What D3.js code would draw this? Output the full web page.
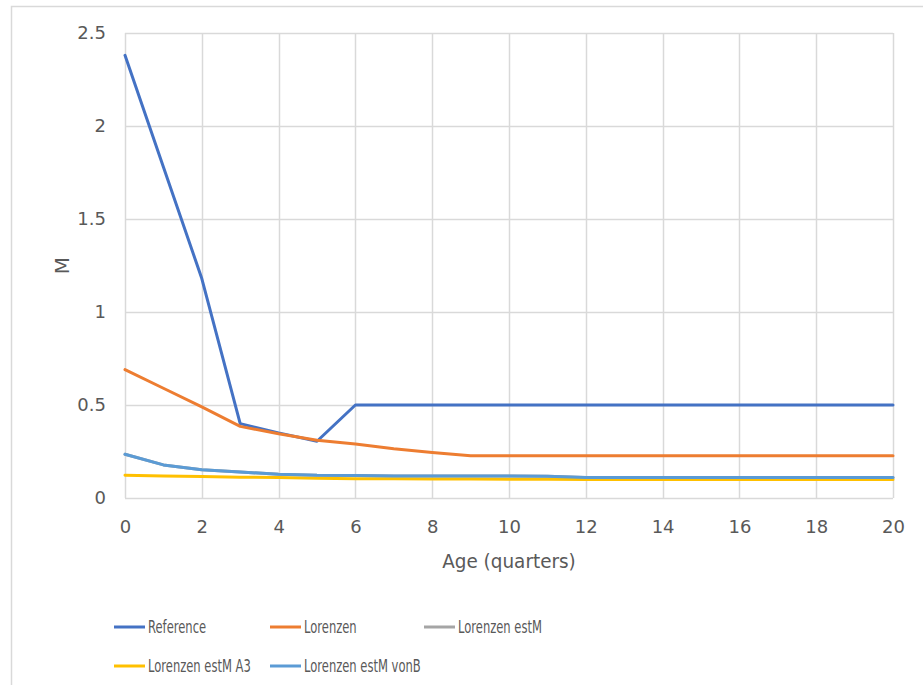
<!DOCTYPE html>
<html>
<head>
<meta charset="utf-8">
<script src="https://cdn.jsdelivr.net/npm/d3@7"></script>
<style>
  html, body { margin: 0; padding: 0; background: #fff; }
  svg { display: block; }
  svg text { font-family: "DejaVu Sans", sans-serif; }
</style>
</head>
<body>
<svg id="chart" width="923" height="685"></svg>
<script>
// ---- data ----
const ages = d3.range(0, 21);
const reference = [2.38, 1.78, 1.18, 0.40, 0.35, 0.305, 0.50, 0.50, 0.50, 0.50, 0.50,
                   0.50, 0.50, 0.50, 0.50, 0.50, 0.50, 0.50, 0.50, 0.50, 0.50];
const lorenzen = [0.69, 0.59, 0.49, 0.385, 0.345, 0.31, 0.29, 0.265, 0.245, 0.227, 0.227,
                  0.227, 0.227, 0.227, 0.227, 0.227, 0.227, 0.227, 0.227, 0.227, 0.227];
const lorenzenEstM = [0.235, 0.178, 0.152, 0.14, 0.128, 0.122, 0.121, 0.118, 0.118, 0.118, 0.118,
                      0.117, 0.11, 0.11, 0.11, 0.11, 0.11, 0.11, 0.11, 0.11, 0.11];
const lorenzenEstMA3 = [0.122, 0.118, 0.116, 0.112, 0.11, 0.106, 0.104, 0.103, 0.102, 0.102, 0.101,
                        0.101, 0.1, 0.1, 0.1, 0.1, 0.1, 0.1, 0.1, 0.1, 0.1];
const lorenzenEstMvonB = [0.235, 0.178, 0.152, 0.14, 0.128, 0.122, 0.121, 0.118, 0.118, 0.118, 0.118,
                          0.117, 0.11, 0.11, 0.11, 0.11, 0.11, 0.11, 0.11, 0.11, 0.11];
const xTicks = d3.range(0, 21, 2);
const yTicks = [0, 0.5, 1, 1.5, 2, 2.5];

const series = [
  { name: 'Reference', values: reference, color: '#4472c4' },
  { name: 'Lorenzen', values: lorenzen, color: '#ed7d31' },
  { name: 'Lorenzen estM', values: lorenzenEstM, color: '#a5a5a5' },
  { name: 'Lorenzen estM A3', values: lorenzenEstMA3, color: '#ffc000' },
  { name: 'Lorenzen estM vonB', values: lorenzenEstMvonB, color: '#5b9bd5' }
];

const svg = d3.select('#chart');
const M = { left: 125, right: 30, top: 33, bottom: 187 };
const W = 923, H = 685;
const x = d3.scaleLinear().domain([0, 20]).range([M.left, W - M.right]);
const y = d3.scaleLinear().domain([0, 2.5]).range([H - M.bottom, M.top]);

// chart frame
svg.append('rect').attr('x', 11.5).attr('y', 6.5).attr('width', 930).attr('height', 700)
  .attr('fill', '#fff').attr('stroke', '#d9d9d9').attr('stroke-width', 1.5);

// gridlines
const grid = svg.append('g');
grid.selectAll('line.h').data(yTicks).join('line')
  .attr('x1', x(0)).attr('x2', x(20))
  .attr('y1', d => Math.round(y(d)) + 0.5).attr('y2', d => Math.round(y(d)) + 0.5)
  .attr('stroke', '#d9d9d9').attr('stroke-width', 1.5);
grid.selectAll('line.v').data(xTicks).join('line')
  .attr('y1', y(0)).attr('y2', y(2.5))
  .attr('x1', d => Math.round(x(d)) + 0.5).attr('x2', d => Math.round(x(d)) + 0.5)
  .attr('stroke', '#d9d9d9').attr('stroke-width', 1.5);

// axes (labels only, Excel-style)
const xAxis = svg.append('g').attr('transform', `translate(0,${y(0)})`)
  .call(d3.axisBottom(x).tickValues(xTicks).tickSize(0).tickPadding(22));
const yAxis = svg.append('g').attr('transform', `translate(${x(0)},0)`)
  .call(d3.axisLeft(y).tickValues(yTicks).tickSize(0).tickPadding(19).tickFormat(d3.format('')));
[xAxis, yAxis].forEach(a => {
  a.attr('font-family', null);
  a.select('.domain').remove();
  a.selectAll('text').attr('fill', '#595959').attr('font-size', 18);
});

svg.append('text').attr('transform', `translate(${(x(0) + x(20)) / 2},568) scale(0.92,1)`)
  .attr('text-anchor', 'middle').attr('fill', '#595959').attr('font-size', 20).text('Age (quarters)');
svg.append('text').attr('transform', `translate(69,${(y(0) + y(2.5)) / 2}) rotate(-90)`)
  .attr('text-anchor', 'middle').attr('fill', '#595959').attr('font-size', 20).text('M');

// lines
const line = d3.line().x((d, i) => x(ages[i])).y(d => y(d));
svg.append('g').selectAll('path').data(series).join('path')
  .attr('fill', 'none').attr('stroke', d => d.color).attr('stroke-width', 3)
  .attr('stroke-linejoin', 'round').attr('stroke-linecap', 'round')
  .attr('d', d => line(d.values));

// legend
const legPos = [[114, 627], [270, 627], [424, 627], [114, 666], [270, 666]];
const leg = svg.append('g').selectAll('g').data(series).join('g')
  .attr('transform', (d, i) => `translate(${legPos[i][0]},${legPos[i][1]})`);
leg.append('line').attr('x1', 0).attr('x2', 31).attr('stroke', d => d.color).attr('stroke-width', 3);
leg.append('text').attr('transform', 'translate(34,0) scale(0.68,1)').attr('dy', '0.35em')
  .attr('fill', '#595959').attr('font-size', 17).text(d => d.name);
</script>
</body>
</html>
